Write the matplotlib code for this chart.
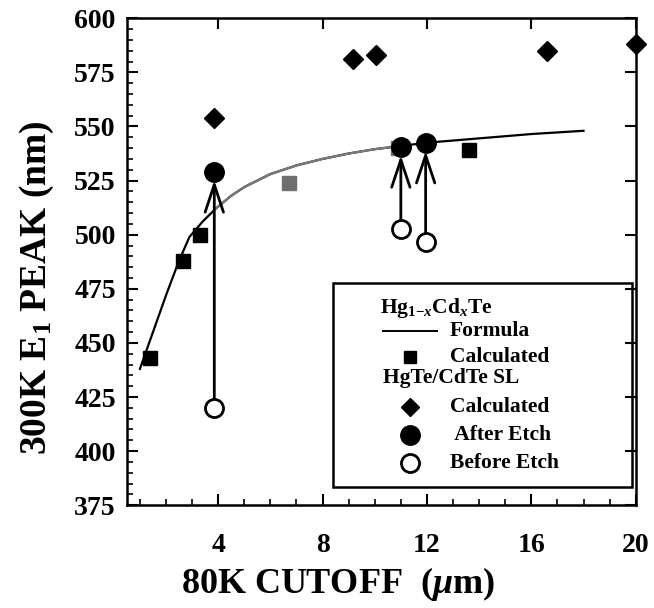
import matplotlib
matplotlib.use("Agg")
import matplotlib.pyplot as plt
import numpy as np
from matplotlib.lines import Line2D
from matplotlib.patches import Rectangle

# Hg(1-x)Cd(x)Te formula curve
formula_x = [1.0, 1.5, 2.0, 2.5, 2.9, 3.4, 3.9, 4.5, 5.0, 6.0, 7.0, 8.0, 9.0, 10.0, 11.0, 12.0, 14.0, 16.0, 18.0]
formula_y = [438, 455, 472, 488, 499, 506, 512, 518, 522, 528, 532, 535, 537.5, 539.5, 541, 542.5, 544.5, 546.5, 548]

# Hg(1-x)Cd(x)Te calculated
hgcdte_x = [1.4, 2.65, 3.3, 13.6]
hgcdte_y = [443, 488, 500, 539]
hgcdte_gray_x = [6.7, 10.9]
hgcdte_gray_y = [524, 540]

# HgTe/CdTe SL calculated
sl_x = [3.85, 9.15, 10.05, 16.6, 20.0]
sl_y = [554, 581, 583, 585, 588]

# etch experiment
etch_x = [3.85, 11.0, 11.95]
after_etch = [529, 540.5, 542.5]
before_etch = [420, 502.5, 496.5]

serif = "Liberation Serif"
plt.rcParams["font.family"] = [serif, "DejaVu Serif"]
plt.rcParams["font.weight"] = "bold"
plt.rcParams["mathtext.fontset"] = "custom"
plt.rcParams["mathtext.rm"] = serif + ":bold"
plt.rcParams["mathtext.it"] = serif + ":italic:bold"
plt.rcParams["mathtext.bf"] = serif + ":bold"

fig = plt.figure(figsize=(6.54, 6.08), dpi=100)
ax = fig.add_axes([0.194, 0.169, 0.778, 0.801])

fx = np.array(formula_x)
fy = np.array(formula_y)
ax.plot(fx, fy, color="black", lw=1.6, zorder=2)
mid = (fx >= 3.9) & (fx <= 11.0)
ax.plot(fx[mid], fy[mid], color="#7a7a7a", lw=1.6, zorder=2.1)

ax.plot(hgcdte_x, hgcdte_y, "s", color="black", ms=10, zorder=3)
ax.plot(hgcdte_gray_x, hgcdte_gray_y, "s", color="#6e6e6e", ms=10, zorder=3)
ax.plot(sl_x, sl_y, "D", color="black", ms=10, zorder=3, clip_on=False)

for x, a, b in zip(etch_x, after_etch, before_etch):
    ax.annotate("", xy=(x, a), xytext=(x, b),
                arrowprops=dict(arrowstyle="->,head_length=0.9,head_width=0.3",
                                color="black", lw=2, shrinkA=0, shrinkB=6,
                                mutation_scale=22), zorder=3)
ax.plot(etch_x, after_etch, "o", color="black", ms=14, zorder=4)
ax.plot(etch_x, before_etch, "o", mfc="white", mec="black", mew=2, ms=13, zorder=4)

ax.set_xlim(0.5, 20)
ax.set_ylim(375, 600)
ax.set_xticks([4, 8, 12, 16, 20])
ax.set_xticks(np.arange(1, 20, 1), minor=True)
ax.set_yticks(np.arange(375, 601, 25))
ax.set_yticks(np.arange(375, 601, 5), minor=True)
ax.tick_params(which="major", direction="in", length=8, width=1.5, top=True, right=True,
               labelsize=20)
ax.tick_params(which="minor", direction="in", length=4, width=1.2)
ax.tick_params(axis="x", which="major", pad=20)
ax.tick_params(axis="y", which="major", pad=8)
for lab in ax.get_xticklabels() + ax.get_yticklabels():
    lab.set_fontweight("bold")
for s in ax.spines.values():
    s.set_linewidth(1.8)

ax.set_xlabel(r"80K CUTOFF  ($\mu$m)", fontsize=26, fontweight="bold")
ax.xaxis.set_label_coords(0.415, -0.122)
ax.set_ylabel(r"300K E$_1$ PEAK (nm)", fontsize=27, fontweight="bold")
ax.yaxis.set_label_coords(-0.14, 0.446)

# legend box drawn by hand
ax.add_patch(Rectangle((0.405, 0.037), 0.587, 0.419, transform=ax.transAxes,
                       fill=False, lw=1.8, ec="black", zorder=5))

def ax_pt(px, py):
    return ((px - 127) / 509, 1 - (py - 18) / 487)

fs = 15.5
tx, ty = ax_pt(380, 308)
ax.text(tx, ty, r"Hg$_{1\mathrm{-}x}$Cd$_x$Te", transform=ax.transAxes, fontsize=fs,
        va="center", ha="left", fontweight="bold", zorder=6)
x0, yl = ax_pt(383, 331)
x1, _ = ax_pt(437, 331)
ax.add_line(Line2D([x0, x1], [yl, yl], transform=ax.transAxes, color="black", lw=1.4, zorder=6))
mx, _ = ax_pt(410, 0)
lx, _ = ax_pt(450, 0)
entries = [
    (331, None, "Formula"),
    (357, dict(marker="s", color="black", ms=9), "Calculated"),
    (407, dict(marker="D", color="black", ms=9), "Calculated"),
    (435, dict(marker="o", color="black", ms=14), " After Etch"),
    (463, dict(marker="o", mfc="white", mec="black", mew=2, ms=13), "Before Etch"),
]
for py, mk, label in entries:
    _, yy = ax_pt(0, py)
    if mk is not None:
        ax.add_line(Line2D([mx], [yy], transform=ax.transAxes, ls="none", zorder=6, **mk))
    ax.text(lx, yy, label, transform=ax.transAxes, fontsize=fs, va="center", ha="left",
            fontweight="bold", zorder=6)
hx, hy = ax_pt(383, 378)
ax.text(hx, hy, "HgTe/CdTe SL", transform=ax.transAxes, fontsize=fs, va="center",
        ha="left", fontweight="bold", zorder=6)

fig.savefig("out.png", dpi=100)
